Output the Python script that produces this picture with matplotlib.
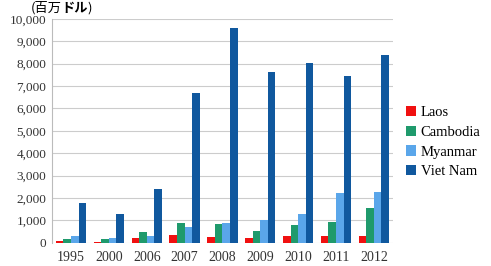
import numpy as np
import matplotlib.pyplot as plt

years = ["1995", "2000", "2006", "2007", "2008", "2009", "2010", "2011", "2012"]
laos = [100, 30, 200, 330, 250, 200, 300, 300, 300]
cambodia = [150, 150, 500, 880, 820, 550, 790, 910, 1560]
myanmar = [300, 200, 300, 720, 870, 1010, 1300, 2220, 2280]
vietnam = [1800, 1300, 2400, 6700, 9580, 7650, 8030, 7440, 8390]

series = [("Laos", laos, "#f01010"),
          ("Cambodia", cambodia, "#1f9a6c"),
          ("Myanmar", myanmar, "#5aa6ea"),
          ("Viet Nam", vietnam, "#10589e")]

plt.rcParams['font.family'] = ['Liberation Serif', 'DejaVu Serif']

fig = plt.figure(figsize=(4.91, 2.66), dpi=100)
ax = fig.add_axes([0.106, 0.087, 0.694, 0.842])

x = np.arange(len(years))
w = 0.2
for i, (name, vals, col) in enumerate(series):
    ax.bar(x + (i - 1.5) * w, vals, w, color=col, label=name, zorder=3)

ax.set_xlim(-0.5, len(years) - 0.5)
ax.set_ylim(0, 10000)
ax.set_yticks(range(0, 10001, 1000))
ax.set_yticklabels([f"{v:,}" for v in range(0, 10001, 1000)], fontsize=9.5, color="#333333")
ax.set_xticks(x)
ax.set_xticklabels(years, fontsize=10, color="#333333")
ax.tick_params(length=0, pad=6)
ax.tick_params(axis='y', pad=4)
ax.grid(axis='y', color="#cccccc", linewidth=0.8, zorder=0)
for s in ["top", "right", "bottom"]:
    ax.spines[s].set_visible(False)
ax.spines["left"].set_color("#bbbbbb")

# unit label: "(百万" normal, "ドル" bold, ")" normal, chained one after another
jp = ['Noto Sans CJK JP', 'DejaVu Sans']
t1 = fig.text(0.062, 0.995, "(百万", fontsize=9.5, va="top", ha="left", family=jp)
t2 = ax.annotate("ドル", xy=(1, 0), xycoords=t1, va="bottom", ha="left",
                 fontsize=9.5, weight="bold", family=jp, annotation_clip=False)
ax.annotate(")", xy=(1, 0), xycoords=t2, va="bottom", ha="left",
            fontsize=9.5, family=jp, annotation_clip=False)

ax.legend(loc="center left", bbox_to_anchor=(1.0, 0.45), frameon=False,
          fontsize=10.5, handlelength=0.7, handleheight=0.7, handletextpad=0.3,
          labelspacing=0.45)

fig.savefig("out.png", dpi=100)
